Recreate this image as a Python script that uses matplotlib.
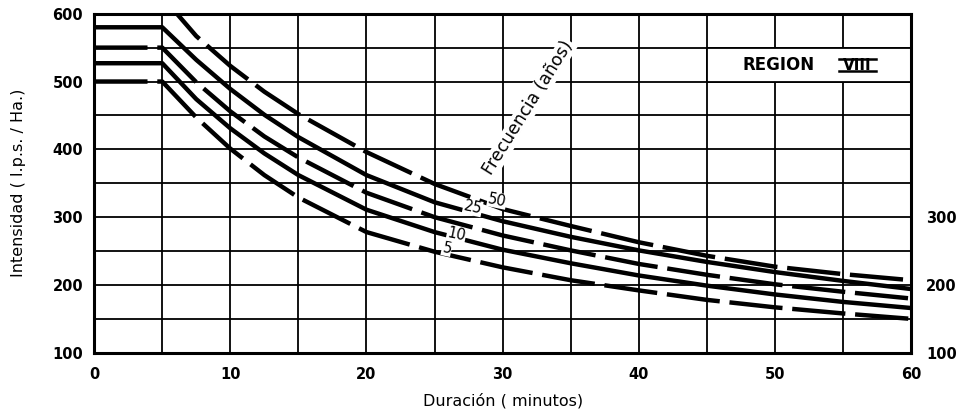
import matplotlib
matplotlib.use("Agg")
import matplotlib.pyplot as plt
import numpy as np

# duración (minutos) y curvas
dur = [0, 5, 7.5, 10, 12.5, 15, 20, 25, 30, 35, 40, 45, 50, 55, 60]
i2 = [500, 500, 447, 401, 362, 329, 278, 249, 226, 207, 192, 178, 167, 158, 150]
i5 = [527, 527, 474, 431, 394, 362, 311, 278, 252, 232, 214, 199, 186, 175, 166]
i10 = [550, 550, 499, 456, 419, 388, 336, 300, 273, 251, 231, 215, 201, 190, 180]
i25 = [580, 580, 532, 489, 451, 418, 362, 322, 294, 271, 251, 234, 219, 206, 194]
i50 = [625, 625, 567, 523, 485, 452, 396, 349, 312, 287, 263, 243, 227, 216, 207]

curvas = [i2, i5, i10, i25, i50]
estilos = ["dash", "solid", "dash", "solid", "dash"]

etiquetas = ["5", "10", "25", "50"]
etiq_x = [25.9, 26.6, 27.8, 29.6]
etiq_y = [254, 274, 314, 325]

fig = plt.figure(figsize=(9.61, 4.16), dpi=100)
ax = fig.add_axes([0.098, 0.152, 0.850, 0.815])

# cuadrícula
for x in range(5, 60, 5):
    ax.axvline(x, color="black", lw=1.3, zorder=1)
for y in range(150, 600, 50):
    ax.axhline(y, color="black", lw=1.3, zorder=1)

for c, e in zip(curvas, estilos):
    if e == "dash":
        ax.plot(dur, c, color="black", lw=3.2, dashes=(12, 2.2), zorder=3)
    else:
        ax.plot(dur, c, color="black", lw=3.2, zorder=3)

for t, x, y in zip(etiquetas, etiq_x, etiq_y):
    ax.text(x, y, t, fontsize=10.5, rotation=-12, ha="center", va="center",
            zorder=5,
            bbox=dict(facecolor="white", edgecolor="none", pad=0.2))

ax.text(31.9, 462, "Frecuencia (años)", fontsize=12.5, rotation=58,
        ha="center", va="center", zorder=5,
        bbox=dict(facecolor="white", edgecolor="none", pad=0.5))

# recuadro REGION VIII
ax.add_patch(plt.Rectangle((45, 500), 15, 50, facecolor="white",
                           edgecolor="black", lw=1.3, zorder=2))
ax.text(50.3, 524, "REGION", fontsize=12, ha="center", va="center",
        fontweight="bold", zorder=5)
ax.text(56.05, 524, "VIII", fontsize=11, ha="center", va="center",
        fontweight="bold", zorder=5)
ax.plot([54.7, 57.4], [533, 533], color="black", lw=1.8, zorder=5)
ax.plot([54.7, 57.4], [515, 515], color="black", lw=1.8, zorder=5)

ax.set_xlim(0, 60)
ax.set_ylim(100, 600)
ax.set_xticks(range(0, 61, 10))
ax.set_yticks(range(100, 601, 100))
ax.tick_params(axis="x", length=0, pad=10, labelsize=10.5)
ax.tick_params(axis="y", length=0, pad=8, labelsize=10.5)
for lab in ax.get_xticklabels() + ax.get_yticklabels():
    lab.set_fontweight("bold")
for s in ax.spines.values():
    s.set_linewidth(2.2)

ax.set_xlabel("Duración ( minutos)", fontsize=11.5, labelpad=8)
ax.set_ylabel("Intensidad ( l.p.s. / Ha.)", fontsize=11.5, labelpad=19)

ax2 = ax.twinx()
ax2.set_ylim(100, 600)
ax2.set_yticks([100, 200, 300])
ax2.tick_params(length=0, pad=11, labelsize=10.5)
for lab in ax2.get_yticklabels():
    lab.set_fontweight("bold")
for s in ax2.spines.values():
    s.set_visible(False)

fig.savefig("out.png", dpi=100)
